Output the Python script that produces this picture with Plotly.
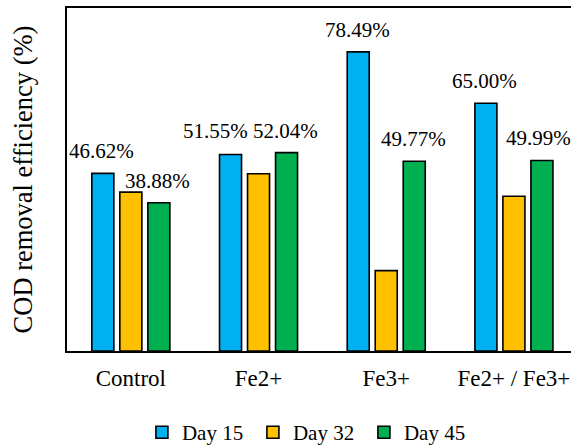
import plotly.graph_objects as go

# COD removal efficiency (%) per treatment and sampling day
categories = ["Control", "Fe2+", "Fe3+", "Fe2+ / Fe3+"]
series_names = ["Day 15", "Day 32", "Day 45"]
day15 = [46.62, 51.55, 78.49, 65.00]
day32 = [41.7, 46.5, 21.1, 40.6]
day45 = [38.88, 52.04, 49.77, 49.99]

colors = ["#00B0F0", "#FFC000", "#00B050"]
font_family = "Liberation Serif"

fig = go.Figure()
for name, vals, col in zip(series_names, [day15, day32, day45], colors):
    fig.add_trace(go.Bar(
        x=categories, y=vals, name=name,
        marker=dict(color=col, line=dict(color="black", width=1.6)),
    ))

# value labels for Day 15 and Day 45 bars (slot width ~28 px on each side of centre)
label_specs = [(day15, -28), (day45, 28)]
nudges = {
    ("Fe2+", -28): (-14, 2),        # keep the two Fe2+ labels apart
    ("Fe2+ / Fe3+", 28): (-2, 0),   # keep the last label inside the page
}
for vals, dx in label_specs:
    for cat, v in zip(categories, vals):
        ex, ey = nudges.get((cat, dx), (0, 0))
        fig.add_annotation(
            x=cat, y=v, text=f"{v:.2f}%", showarrow=False,
            xshift=dx - 1 + ex, yshift=22 + ey, yanchor="middle",
            font=dict(family=font_family, size=21, color="black"),
        )

fig.update_layout(
    width=571, height=447,
    margin=dict(l=67, r=0, t=8, b=96, autoexpand=False),
    paper_bgcolor="white", plot_bgcolor="white",
    barmode="group", bargap=0.342, bargroupgap=0.214,
    font=dict(family=font_family, color="black"),
    showlegend=True,
    legend=dict(
        orientation="h", x=0.479, xanchor="center", y=-0.238, yanchor="middle",
        font=dict(family=font_family, size=21, color="black"),
        itemwidth=30, traceorder="normal",
        entrywidth=66, entrywidthmode="pixels",
    ),
    xaxis=dict(
        range=[-0.5, 3.447], showline=True, linecolor="black", linewidth=2,
        mirror=True, ticks="", showgrid=False, zeroline=False,
        tickfont=dict(family=font_family, size=23, color="black"),
        ticklabelstandoff=5,
    ),
    yaxis=dict(
        range=[0, 90], showline=True, linecolor="black", linewidth=2,
        showticklabels=False, ticks="", showgrid=False, zeroline=False,
        title=dict(text="COD removal efficiency (%)", standoff=25,
                   font=dict(family=font_family, size=26.5, color="black")),
    ),
)

fig.write_html("out.html")
